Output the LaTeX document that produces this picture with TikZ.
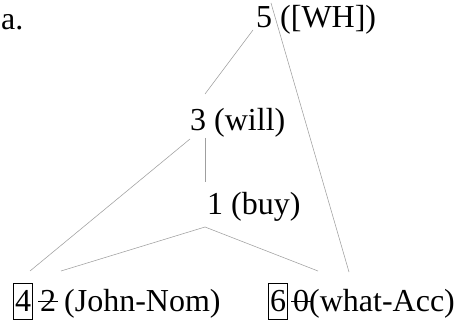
\documentclass[tikz,border=0pt]{standalone}
\usepackage{fontspec}
\setmainfont{Liberation Serif}
\newcommand{\stk}[1]{\leavevmode\rlap{\kern-0.06em\rule[0.31em]{0.62em}{0.04em}}#1}
\begin{document}
\begin{tikzpicture}[x=1pt,y=1pt,
  lbl/.style={font=\fontsize{32}{38}\selectfont, inner sep=0pt, anchor=base west},
  boxed/.style={lbl, draw, line width=0.9pt, inner xsep=1.6pt, inner ysep=0pt, text height=28.5pt, text depth=7.5pt},
  branch/.style={draw=gray!75, line width=0.55pt}]
\useasboundingbox (0,0) rectangle (458,-323);
\node[lbl] (la) at (1,-30) {a.};
\node[lbl] (n5) at (256,-28) {5 ([WH])};
\node[lbl] (n3) at (190,-131) {3 (will)};
\node[lbl] (n1) at (207,-215) {1 (buy)};
\node[boxed] (n4) at (13,-312) {4};
\node[lbl] (n2) at (40,-312) {\stk{2} (John-Nom)};
\node[boxed] (n6) at (268,-312) {6};
\node[lbl] (n0) at (293,-312) {\stk{0}(what-Acc)};
% connector end points
\coordinate (p5a) at (253,-30);
\coordinate (p5b) at (271,-3);
\coordinate (p3t) at (205,-94);
\coordinate (p3a) at (190,-139);
\coordinate (p3b) at (205,-138);
\coordinate (p1t) at (205,-182);
\coordinate (p1b) at (205,-227);
\coordinate (p4) at (30,-271);
\coordinate (p2) at (61,-271);
\coordinate (p0) at (318,-271);
\coordinate (p6) at (349,-272);
\draw[branch] (p5a) -- (p3t);
\draw[branch] (p5b) -- (p6);
\draw[branch] (p3b) -- (p1t);
\draw[branch] (p3a) -- (p4);
\draw[branch] (p1b) -- (p2);
\draw[branch] (p1b) -- (p0);
\end{tikzpicture}
\end{document}
